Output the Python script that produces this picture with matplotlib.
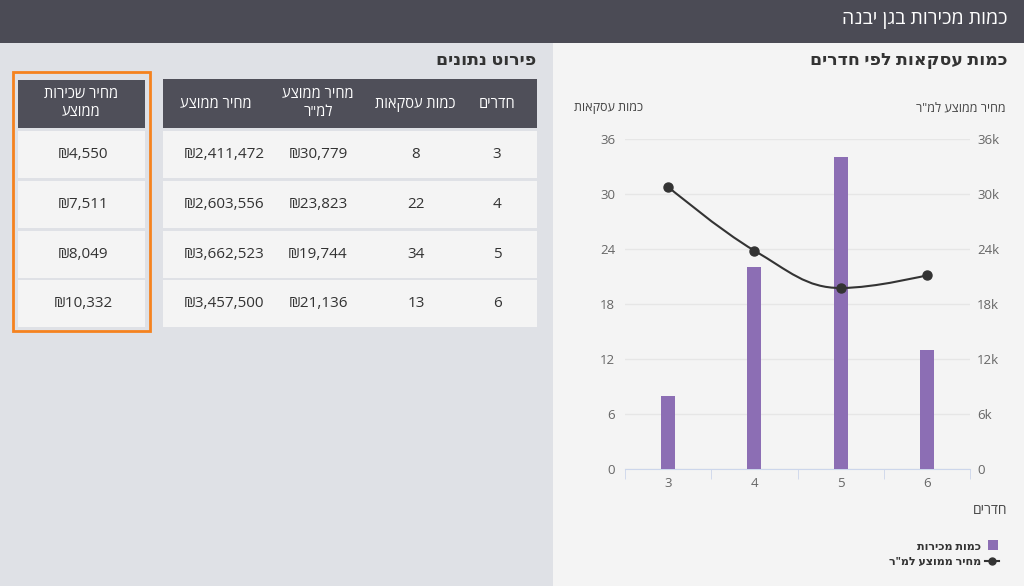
import matplotlib
matplotlib.use("Agg")
import matplotlib.pyplot as plt
from matplotlib.patches import Rectangle, PathPatch
from matplotlib.path import Path
from matplotlib.ticker import FuncFormatter

plt.rcParams['font.family'] = ['Open Sans', 'DejaVu Sans']

W, H = 1024, 586

# data
rooms = [3, 4, 5, 6]
deals = [8, 22, 34, 13]
price_sqm = [30779, 23823, 19744, 21136]
avg_price = [2411472, 2603556, 3662523, 3457500]
avg_rent = [4550, 7511, 8049, 10332]

page_title = 'כמות מכירות בגן יבנה'
chart_title = 'כמות עסקאות לפי חדרים'
table_title = 'פירוט נתונים'
col_rooms = 'חדרים'
col_deals = 'כמות עסקאות'
col_sqm = 'מחיר ממוצע למ"ר'
col_price = 'מחיר ממוצע'
col_rent = 'מחיר שכירות ממוצע'
legend_bar = 'כמות מכירות'
legend_line = 'מחיר ממוצע למ"ר'


def heb(s):
    # matplotlib has no bidi support: flip hebrew to visual order
    return s[::-1]


def shek(v):
    return '₪{:,}'.format(v)


fig = plt.figure(figsize=(W / 100, H / 100), dpi=100)
fig.patch.set_facecolor('#dfe1e6')


def rect(x0, y0, x1, y1, **kw):
    kw.setdefault('zorder', -5)
    fig.add_artist(Rectangle((x0 / W, 1 - y1 / H), (x1 - x0) / W, (y1 - y0) / H,
                             transform=fig.transFigure, **kw))


def txt(x, y, s, **kw):
    kw.setdefault('va', 'center')
    kw.setdefault('color', '#333333')
    fig.text(x / W, 1 - y / H, s, **kw)


# header and right panel
rect(0, 0, W, 43, color='#4b4b55', lw=0)
txt(1008, 20, heb(page_title), ha='right', color='white', fontsize=14)
rect(553, 43, W, H, color='#f4f4f4', lw=0)
txt(1008, 60, heb(chart_title), ha='right', fontsize=12.5, fontweight='bold')

# chart
ax = fig.add_axes([625 / W, 1 - 469 / H, 345 / W, 330 / H])
ax.set_facecolor('none')
x = list(range(len(rooms)))
ax.bar(x, deals, width=0.16, color='#8c6eb4', zorder=3)
ax.set_xlim(-0.5, len(rooms) - 0.5)
ax.set_ylim(0, 36)
ax.set_yticks(range(0, 37, 6))
ax.set_xticks(x)
ax.set_xticklabels([str(r) for r in rooms])
ax.set_xticks([i - 0.5 for i in range(len(rooms) + 1)], minor=True)
ax.grid(axis='y', color='#e6e6e6', lw=1, zorder=0)
for s in ['top', 'left', 'right']:
    ax.spines[s].set_visible(False)
ax.spines['bottom'].set_color('#ccd6eb')
ax.tick_params(axis='x', which='major', length=0, colors='#666666', labelsize=9.5, pad=6)
ax.tick_params(axis='x', which='minor', length=7, color='#ccd6eb')
ax.tick_params(axis='y', length=0, colors='#666666', labelsize=9.5, pad=7)

ax2 = ax.twinx()
ax2.set_ylim(0, 36000)
ax2.set_yticks(range(0, 36001, 6000))
ax2.yaxis.set_major_formatter(FuncFormatter(lambda v, p: '0' if v == 0 else '%dk' % (v / 1000)))
for s in ax2.spines.values():
    s.set_visible(False)
ax2.tick_params(axis='y', length=0, colors='#666666', labelsize=9.5, pad=5)

# spline like the web chart
sm = 1.5
n = len(x)
lc, rc = [None] * n, [None] * n
for i in range(1, n - 1):
    px, py = x[i], price_sqm[i]
    lx = (sm * px + x[i - 1]) / (sm + 1)
    ly = (sm * py + price_sqm[i - 1]) / (sm + 1)
    rx = (sm * px + x[i + 1]) / (sm + 1)
    ry = (sm * py + price_sqm[i + 1]) / (sm + 1)
    corr = (ry - ly) * (rx - px) / (rx - lx) + py - ry
    ly += corr
    ry += corr
    lastY, nextY = price_sqm[i - 1], price_sqm[i + 1]
    if ly > lastY and ly > py:
        ly = max(lastY, py)
        ry = 2 * py - ly
    elif ly < lastY and ly < py:
        ly = min(lastY, py)
        ry = 2 * py - ly
    if ry > nextY and ry > py:
        ry = max(nextY, py)
        ly = 2 * py - ry
    elif ry < nextY and ry < py:
        ry = min(nextY, py)
        ly = 2 * py - ry
    lc[i] = (lx, ly)
    rc[i] = (rx, ry)
verts = [(x[0], price_sqm[0])]
codes = [Path.MOVETO]
for i in range(1, n):
    c1 = rc[i - 1] or (x[i - 1], price_sqm[i - 1])
    c2 = lc[i] or (x[i], price_sqm[i])
    verts += [c1, c2, (x[i], price_sqm[i])]
    codes += [Path.CURVE4] * 3
ax2.add_patch(PathPatch(Path(verts, codes), fill=False, edgecolor='#333333', lw=1.5, zorder=4))
ax2.plot(x, price_sqm, 'o', color='#333333', ms=6.5, zorder=5)

txt(1006, 108, heb(legend_line), ha='right', fontsize=9, color='#444444')
txt(643, 108, heb(col_deals), ha='right', fontsize=9, color='#444444')
txt(1007, 510, heb(col_rooms), ha='right', fontsize=10, color='#444444')

# legend
rect(988, 540, 998, 550, color='#8c6eb4', lw=0, zorder=2)
txt(981, 547, heb(legend_bar), ha='right', fontsize=8, fontweight='bold')
fig.add_artist(plt.Line2D([985 / W, 999 / W], [1 - 561 / H] * 2, color='#333333', lw=1.5,
                          transform=fig.transFigure))
fig.add_artist(plt.Line2D([992 / W], [1 - 561 / H], color='#333333', marker='o', ms=5,
                          transform=fig.transFigure))
txt(981, 562, heb(legend_line), ha='right', fontsize=8, fontweight='bold')

# tables
txt(536, 60, heb(table_title), ha='right', fontsize=12.5, fontweight='bold')
row_tops = [131, 181, 231, 280]
row_h = 47

rect(163, 79, 537, 128, color='#4f4f59', lw=0)
cols = [(497, col_rooms), (415, col_deals), (318, col_sqm), (216, col_price)]
for cx, name in cols:
    if name == col_sqm:
        txt(cx, 95, heb('מחיר ממוצע'), ha='center', color='white', fontsize=10.5)
        txt(cx, 113, heb('למ"ר'), ha='center', color='white', fontsize=10.5)
    else:
        txt(cx, 104, heb(name), ha='center', color='white', fontsize=10.5)
for i, top in enumerate(row_tops):
    rect(163, top, 537, top + row_h, color='#f4f4f4', lw=0)
    cy = top + row_h / 2
    txt(497, cy, str(rooms[i]), ha='center', fontsize=11)
    txt(416, cy, str(deals[i]), ha='center', fontsize=11)
    txt(318, cy, shek(price_sqm[i]), ha='center', fontsize=11)
    txt(224, cy, shek(avg_price[i]), ha='center', fontsize=11)

rect(18, 80, 145, 128, color='#4f4f59', lw=0)
txt(81, 95, heb('מחיר שכירות'), ha='center', color='white', fontsize=10.5)
txt(81, 113, heb('ממוצע'), ha='center', color='white', fontsize=10.5)
for i, top in enumerate(row_tops):
    rect(18, top, 145, top + row_h, color='#f4f4f4', lw=0)
    txt(83, top + row_h / 2, shek(avg_rent[i]), ha='center', fontsize=11)
rect(13, 72, 150, 331, fill=False, edgecolor='#f5821f', lw=2, zorder=2)

fig.savefig('out.png', dpi=100, facecolor=fig.get_facecolor())
